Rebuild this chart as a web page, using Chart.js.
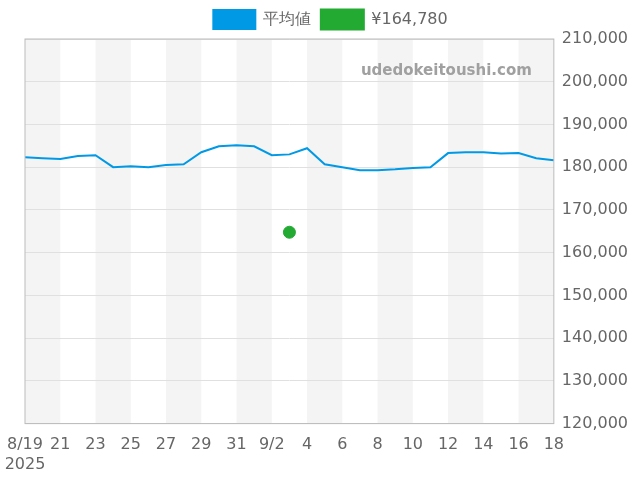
<!DOCTYPE html>
<html>
<head>
<meta charset="utf-8">
<script src="https://cdn.jsdelivr.net/npm/chart.js@4"></script>
<style>
  body { margin: 0; background: #fff; }
  #wrap { width: 640px; height: 480px; }
</style>
</head>
<body>
<div id="wrap"><canvas id="myChart"></canvas></div>
<script>
// dates 8/19 .. 9/18
const labels = ['8/19','20','21','22','23','24','25','26','27','28','29','30','31',
  '9/1','9/2','3','4','5','6','7','8','9','10','11','12','13','14','15','16','17','18'];
const average = [182350,182100,181900,182600,182800,180000,180200,180000,180500,180700,
  183500,184900,185150,184900,182800,183000,184450,180700,180000,179300,179300,179500,
  179800,180000,183300,183500,183500,183200,183300,182100,181600];
const pointIndex = 15; // 9/3
const pointValue = 164780;
const pointLabel = '¥164,780';
const yMin = 120000, yMax = 210000, yStep = 10000;

const single = labels.map((l, i) => i === pointIndex ? pointValue : null);

const bands = {
  id: 'bands',
  beforeDraw(chart) {
    const { ctx, chartArea: a, scales: { x } } = chart;
    ctx.save();
    ctx.fillStyle = '#f4f4f4';
    for (let i = 0; i < labels.length - 1; i += 4) {
      const x0 = x.getPixelForValue(i);
      const x1 = x.getPixelForValue(Math.min(i + 2, labels.length - 1));
      ctx.fillRect(x0, a.top, x1 - x0, a.bottom - a.top);
    }
    ctx.restore();
  },
  afterDraw(chart) {
    const { ctx, chartArea: a } = chart;
    ctx.save();
    ctx.font = 'bold 15px "DejaVu Sans"';
    ctx.fillStyle = '#a0a0a0';
    ctx.textAlign = 'right';
    ctx.fillText('udedokeitoushi.com', a.right - 22, a.top + 32);
    ctx.strokeStyle = '#bbb';
    ctx.lineWidth = 1;
    ctx.strokeRect(a.left, a.top, a.right - a.left, a.bottom - a.top);
    ctx.restore();
  }
};

new Chart(document.getElementById('myChart'), {
  type: 'line',
  data: {
    labels: labels,
    datasets: [{
      label: '平均値',
      data: average,
      borderColor: '#0099e6',
      backgroundColor: '#0099e6',
      borderWidth: 2,
      pointRadius: 0,
      tension: 0
    }, {
      label: pointLabel,
      data: single,
      borderColor: '#22aa33',
      backgroundColor: '#22aa33',
      showLine: false,
      pointRadius: 6,
      pointHoverRadius: 6
    }]
  },
  options: {
    responsive: true,
    maintainAspectRatio: false,
    animation: false,
    layout: { padding: { left: 25, right: 4, top: 0, bottom: 2 } },
    plugins: {
      legend: {
        labels: { boxWidth: 42, boxHeight: 19, color: '#666', font: { size: 16, family: '"DejaVu Sans"' }, padding: 10 }
      },
      tooltip: { enabled: false }
    },
    scales: {
      x: {
        type: 'category',
        offset: false,
        grid: { display: false },
        border: { display: false },
        ticks: {
          autoSkip: false,
          maxRotation: 0,
          color: '#666',
          font: { size: 16, family: '"DejaVu Sans"' },
          padding: 4,
          callback: (v, i) => i % 2 ? '' : (i === 0 ? [labels[i], '2025'] : labels[i])
        }
      },
      y: {
        position: 'right',
        min: yMin, max: yMax,
        grid: { color: '#e0e0e0', drawTicks: false },
        border: { display: false },
        ticks: {
          stepSize: yStep,
          padding: 8,
          color: '#666',
          font: { size: 16, family: '"DejaVu Sans"' },
          callback: v => v.toLocaleString('en-US')
        }
      }
    }
  },
  plugins: [bands]
});
</script>
</body>
</html>
